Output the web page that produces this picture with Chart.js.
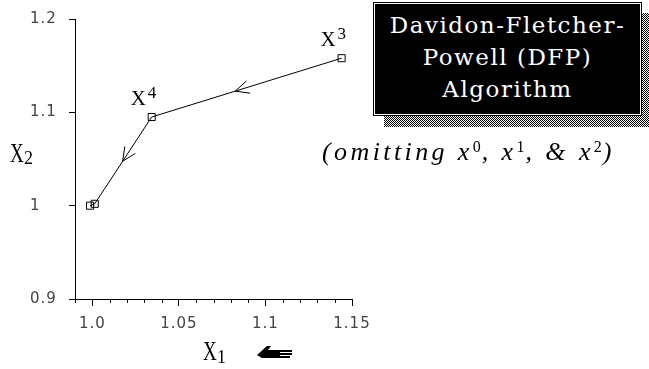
<!DOCTYPE html>
<html>
<head>
<meta charset="utf-8">
<script src="https://cdn.jsdelivr.net/npm/chart.js@4.4.0/dist/chart.umd.min.js"></script>
<style>
  html, body { margin: 0; padding: 0; background: #fff; }
  #quadro { position: relative; width: 649px; height: 369px; overflow: hidden; }
  #grafico { position: absolute; left: 0; top: 0; }
  .txt { position: absolute; white-space: nowrap; font-family: "Liberation Serif", "DejaVu Serif", serif; color: #000; }
  #sombra {
    position: absolute; left: 384px; top: 13px; width: 265px; height: 114px;
    background: repeating-conic-gradient(#000 0 25%, #fff 0 50%) 0 0 / 2px 2px;
  }
  #caixa {
    position: absolute; left: 373px; top: 2px; width: 267px; height: 106px;
    background: #000; border: 1px solid #000; box-shadow: inset 0 0 0 1px #fff;
    color: #fff; text-align: center;
    font-family: "DejaVu Serif", serif; font-size: 23px; line-height: 32px; letter-spacing: 1.5px;
    padding-top: 6px;
  }
  #caixa div { height: 32px; }
  #nota { left: 322px; top: 141px; font-size: 26px; line-height: 22px; font-style: italic; letter-spacing: 3.4px; }
  #nota sup { font-style: normal; font-size: 16px; vertical-align: 8px; line-height: 0; letter-spacing: 1px; }
  .eixoX { font-size: 28px; line-height: 28px; transform: scaleX(0.68); transform-origin: left top; }
  .eixoN { font-size: 18px; line-height: 18px; }
</style>
</head>
<body>
<div id="quadro">
  <canvas id="grafico" width="649" height="369"></canvas>

  <div id="sombra"></div>
  <div id="caixa">
    <div>Davidon-Fletcher-</div>
    <div>Powell (DFP)</div>
    <div>Algorithm</div>
  </div>

  <div class="txt" id="nota">(omitting <i>x</i><sup>0</sup>, <i>x</i><sup>1</sup>, &amp; <i>x</i><sup>2</sup>)</div>

  <!-- títulos dos eixos -->
  <div class="txt eixoX" style="left:10px; top:139px;">X</div>
  <div class="txt eixoN" style="left:24px; top:149px;">2</div>
  <div class="txt eixoX" style="left:203px; top:337px;">X</div>
  <div class="txt eixoN" style="left:217px; top:348px;">1</div>

  <!-- mãozinha apontando para a esquerda -->
  <svg style="position:absolute; left:0; top:0;" width="649" height="369">
    <path d="M257 355 L267 346 L271 346 L268 350 L292 350 L292 352 L280 352 L280 353 L292 353 L292 355 L280 355 L280 356 L290 356 L290 358 L262 358 Z" fill="#000"/>
  </svg>
</div>

<script>
  // iterações do DFP (x3 em diante)
  const valoresX1 = [1.1440, 1.0343, 1.0014, 0.9987];
  const valoresX2 = [1.1580, 1.0950, 1.0020, 1.0000];
  const nomesPontos = [['X', '3'], ['X', '4'], null, null];

  // eixo X: marcas a cada 0.01, com rótulo só nas principais
  const ticksX = [0.99, 1.00, 1.01, 1.02, 1.03, 1.04, 1.05, 1.06, 1.07, 1.08, 1.09, 1.10, 1.11, 1.12, 1.13, 1.14, 1.15];
  const ticksXPrincipais = [1.00, 1.05, 1.10, 1.15];
  const rotulosX = ['1.0', '1.05', '1.1', '1.15'];

  const ticksY = [0.9, 1.0, 1.1, 1.2];
  const rotulosY = ['0.9', '1', '1.1', '1.2'];

  // setas no meio de cada trecho (índice do ponto inicial, fração do trecho)
  const setas = [[0, 0.56], [1, 0.51]];

  const fonteTicks = { family: 'DejaVu Sans', size: 15, weight: 'normal' };

  function indicePrincipal(v) {
    return ticksXPrincipais.findIndex(m => Math.abs(m - v) < 1e-6);
  }

  const pluginExtras = {
    id: 'extras',
    beforeDraw(chart) {
      chart.ctx.letterSpacing = '1px';
    },
    afterDraw(chart) {
      const ctx = chart.ctx;
      const escalaX = chart.scales.x;
      const base = chart.chartArea.bottom;
      ctx.save();
      ctx.letterSpacing = '0px';
      ctx.strokeStyle = '#000';
      ctx.lineWidth = 1;

      // marcas menores do eixo X
      ticksX.forEach(v => {
        if (indicePrincipal(v) >= 0) return;
        const px = Math.round(escalaX.getPixelForValue(v)) + 0.5;
        ctx.beginPath();
        ctx.moveTo(px, base);
        ctx.lineTo(px, base + 4);
        ctx.stroke();
      });

      const pts = chart.getDatasetMeta(0).data;

      // pontas de seta abertas
      setas.forEach(([i, t]) => {
        const a = pts[i], b = pts[i + 1];
        const px = a.x + (b.x - a.x) * t;
        const py = a.y + (b.y - a.y) * t;
        const ang = Math.atan2(a.y - b.y, a.x - b.x);
        const tam = 15, abre = 25 * Math.PI / 180;
        ctx.beginPath();
        ctx.moveTo(px + tam * Math.cos(ang - abre), py + tam * Math.sin(ang - abre));
        ctx.lineTo(px, py);
        ctx.lineTo(px + tam * Math.cos(ang + abre), py + tam * Math.sin(ang + abre));
        ctx.stroke();
      });

      // nomes dos pontos (X com expoente)
      ctx.fillStyle = '#000';
      ctx.textAlign = 'left';
      ctx.textBaseline = 'alphabetic';
      nomesPontos.forEach((nome, i) => {
        if (!nome) return;
        const p = pts[i];
        ctx.font = '21px "Liberation Serif"';
        ctx.fillText(nome[0], p.x - 21, p.y - 12);
        ctx.font = '17px "Liberation Serif"';
        ctx.fillText(nome[1], p.x - 4, p.y - 19);
      });
      ctx.restore();
    }
  };

  new Chart(document.getElementById('grafico'), {
    type: 'scatter',
    data: {
      datasets: [{
        data: valoresX1.map((x, i) => ({ x, y: valoresX2[i] })),
        showLine: true,
        borderColor: '#000',
        borderWidth: 1,
        pointStyle: 'rect',
        pointRadius: 5,
        pointBorderWidth: 1,
        pointBorderColor: '#000',
        pointBackgroundColor: 'transparent',
        clip: false
      }]
    },
    options: {
      responsive: false,
      devicePixelRatio: 1,
      animation: false,
      events: [],
      layout: { padding: { left: 30, top: 19, right: 297, bottom: 0 } },
      plugins: { legend: { display: false }, tooltip: { enabled: false } },
      scales: {
        x: {
          type: 'linear',
          min: 0.99,
          max: 1.15,
          afterBuildTicks: s => { s.ticks = ticksX.map(v => ({ value: v })); },
          afterFit: s => { s.height = 70; },
          grid: {
            drawOnChartArea: false,
            drawTicks: true,
            tickLength: 7,
            tickWidth: 1,
            tickColor: c => (c.tick && indicePrincipal(c.tick.value) >= 0) ? '#000' : 'transparent'
          },
          border: { display: true, color: '#000', width: 1 },
          ticks: {
            autoSkip: false,
            maxRotation: 0,
            padding: 9,
            color: '#444',
            font: fonteTicks,
            callback: v => { const i = indicePrincipal(v); return i >= 0 ? rotulosX[i] : ''; }
          }
        },
        y: {
          type: 'linear',
          min: 0.9,
          max: 1.2,
          afterBuildTicks: s => { s.ticks = ticksY.map(v => ({ value: v })); },
          afterFit: s => { s.width = 45; },
          grid: {
            drawOnChartArea: false,
            drawTicks: true,
            tickLength: 6,
            tickWidth: 1,
            tickColor: '#000'
          },
          border: { display: true, color: '#000', width: 1 },
          ticks: {
            crossAlign: 'far',
            color: '#444',
            font: fonteTicks,
            callback: (v, i) => rotulosY[i]
          }
        }
      }
    },
    plugins: [pluginExtras]
  });
</script>
</body>
</html>
